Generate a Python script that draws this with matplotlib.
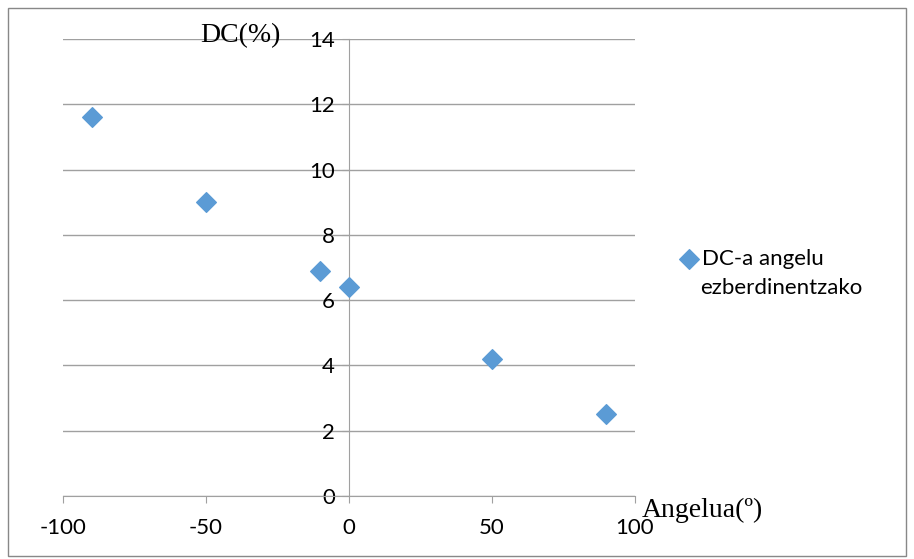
import matplotlib.pyplot as plt
from matplotlib.patches import Rectangle

# datuak
angles = [-90, -50, -10, 0, 50, 90]
dc = [11.6, 9.0, 6.9, 6.4, 4.2, 2.5]
x_ticks = [-100, -50, 0, 50, 100]
y_ticks = [0, 2, 4, 6, 8, 10, 12, 14]

plt.rcParams['axes.unicode_minus'] = False

W, H = 914, 559
fig = plt.figure(figsize=(W / 100, H / 100), dpi=100)
ax = fig.add_axes([63 / W, (H - 496) / H, (635 - 63) / W, (496 - 39) / H])

ax.scatter(angles, dc, marker='D', s=100, color='#5B9BD5', zorder=3,
           label='DC-a angelu')

ax.set_xlim(-100, 100)
ax.set_ylim(0, 14)
ax.set_xticks(x_ticks)
ax.set_yticks(y_ticks)
ax.yaxis.grid(True, color='#A0A0A0', linewidth=1)
ax.set_axisbelow(True)

ax.spines['left'].set_position(('data', 0))
ax.spines['top'].set_visible(False)
ax.spines['right'].set_visible(False)
for s in ['left', 'bottom']:
    ax.spines[s].set_color('#A0A0A0')
ax.tick_params(colors='#A0A0A0', labelcolor='black', labelsize=16,
               length=5, direction='out')
ax.tick_params(axis='x', pad=11)
ax.tick_params(axis='y', pad=5)
for lab in ax.get_xticklabels() + ax.get_yticklabels():
    lab.set_family('Lato')

ax.text(-38, 14.1, 'DC(%)', fontsize=20, family='Liberation Serif',
        ha='center', va='center')
ax.text(102.5, -0.45, 'Angelua(º)', fontsize=20, family='Liberation Serif',
        ha='left', va='center', clip_on=False)

leg = ax.legend(loc='center left', bbox_to_anchor=(678 / W, (H - 259) / H),
                bbox_transform=fig.transFigure, frameon=False,
                prop={'family': 'Lato', 'size': 16}, handletextpad=0.1,
                handlelength=1.0, borderpad=0, borderaxespad=0)
fig.text(700 / W, (H - 288) / H, 'ezberdinentzako', family='Lato',
         fontsize=16, ha='left', va='center')

fig.patches.append(Rectangle((8 / W, 3 / H), (906 - 8) / W, (551 - 3) / H,
                             transform=fig.transFigure, fill=False,
                             edgecolor='#888888', linewidth=1))

fig.savefig('out.png', dpi=100)
